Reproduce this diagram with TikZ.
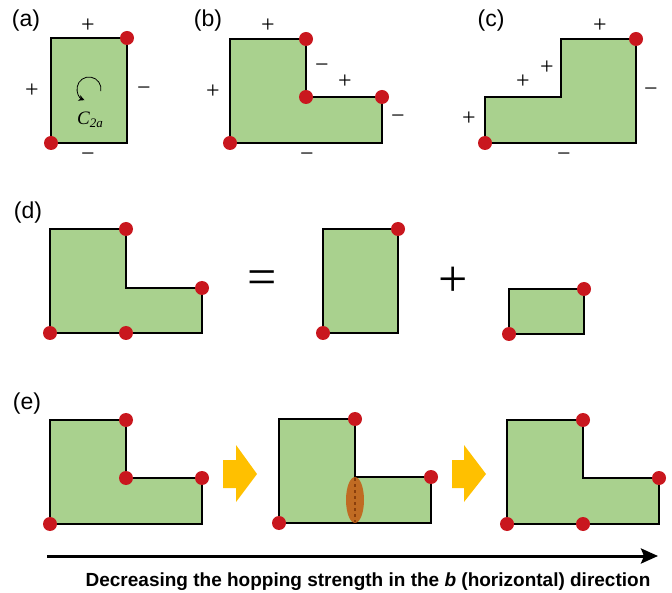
\documentclass[tikz,border=0pt]{standalone}
\usepackage{fontspec}
\setmainfont{Liberation Sans}
\newfontfamily\signfont{Liberation Serif}
\usetikzlibrary{arrows.meta}

\definecolor{plaqgreen}{HTML}{A9D18E}
\definecolor{sitered}{HTML}{C9171E}
\definecolor{arrowyellow}{HTML}{FFC000}
\definecolor{cutbrown}{HTML}{C55A11}

\begin{document}
\begin{tikzpicture}[
    x=1pt, y=-1pt,
    plaq/.style={fill=plaqgreen, draw=black, line width=1.6pt, line join=miter},
    site/.style={circle, fill=sitered, inner sep=0pt, minimum size=14pt},
    sign/.style={font=\signfont\fontsize{24}{24}\selectfont},
    panel/.style={font=\fontsize{23}{23}\selectfont},
    bigsign/.style={font=\signfont\fontsize{52}{52}\selectfont},
    hoparrow/.style={fill=arrowyellow},
    axis/.style={line width=3pt, -{Stealth[length=17pt,width=15pt,inset=3pt]}}
]
\useasboundingbox (0,0) rectangle (672,593);

% Plaquettes
\draw[plaq] (51,38) rectangle (127,143);
\draw[plaq] (230,39) -- (306,39) -- (306,97) -- (382,97) -- (382,143) -- (230,143) -- cycle;
\draw[plaq] (485,97) -- (561,97) -- (561,39) -- (636,39) -- (636,143) -- (485,143) -- cycle;
\draw[plaq] (50,229) -- (126,229) -- (126,288) -- (202,288) -- (202,333) -- (50,333) -- cycle;
\draw[plaq] (323,229) rectangle (398,333);
\draw[plaq] (509,289) rectangle (584,334);
\draw[plaq] (50,420) -- (126,420) -- (126,478) -- (202,478) -- (202,524) -- (50,524) -- cycle;
\draw[plaq] (279,419) -- (355,419) -- (355,477) -- (431,477) -- (431,523) -- (279,523) -- cycle;
\draw[plaq] (507,420) -- (583,420) -- (583,478) -- (659,478) -- (659,524) -- (507,524) -- cycle;

% Cut between the two blocks
\fill[cutbrown, opacity=0.85] (355,500) ellipse [x radius=9, y radius=23];
\draw[cutbrown!70!black, line width=1.3pt, dash pattern=on 3pt off 3pt] (355,478) -- (355,522);

% Sites
\foreach \x/\y/\n in {127/38/a1, 51/143/a2,
    306/39/b1, 306/97/b2, 382/97/b3, 230/143/b4,
    636/39/c1, 485/143/c2,
    126/229/d1, 202/288/d2, 50/333/d3, 126/333/d4,
    398/229/d5, 323/333/d6, 584/289/d7, 509/334/d8,
    126/420/e1, 126/478/e2, 202/478/e3, 50/524/e4,
    355/419/e5, 431/477/e6, 279/523/e7,
    583/420/e8, 659/478/e9, 507/524/e10, 583/524/e11}
  \node[site] (\n) at (\x,\y) {};

% Labels
\node[panel] (la) at (26,21) {(a)};
\node[panel] (lb) at (208,21) {(b)};
\node[panel] (lc) at (491,21) {(c)};
\node[panel] (ld) at (28,213) {(d)};
\node[panel] (le) at (27,404) {(e)};

% Signs
\node[sign] (sa1) at (88,26) {+};
\node[sign] (sa2) at (32,91) {+};
\node[sign] (sa3) at (144,91) {−};
\node[sign] (sa4) at (88,157) {−};
\node[sign] (sb1) at (268,26) {+};
\node[sign] (sb2) at (322,68) {−};
\node[sign] (sb3) at (345,82) {+};
\node[sign] (sb4) at (213,92) {+};
\node[sign] (sb5) at (398,119) {−};
\node[sign] (sb6) at (307,157) {−};
\node[sign] (sc1) at (600,26) {+};
\node[sign] (sc2) at (547,68) {+};
\node[sign] (sc3) at (523,82) {+};
\node[sign] (sc4) at (469,119) {+};
\node[sign] (sc5) at (651,92) {−};
\node[sign] (sc6) at (564,157) {−};
\node[bigsign] (eq) at (262,283) {=};
\node[bigsign] (plus) at (453,282) {+};

% Rotation
\draw[line width=0.8pt, -{Stealth[length=6pt,width=6pt]}] (89,89) ++(10:12) arc[start angle=10, end angle=-248, radius=12];
\node[font=\signfont\itshape\fontsize{19}{19}\selectfont] (rot) at (90,120)
  {C\raisebox{-0.35ex}{\fontsize{13}{13}\selectfont 2a}};

% Steps
\fill[hoparrow] (223,460) -- (236,460) -- (236,445) -- (257,474) -- (236,502) -- (236,488) -- (223,488) -- cycle;
\fill[hoparrow] (452,460) -- (464,460) -- (464,445) -- (486,474) -- (464,502) -- (464,488) -- (452,488) -- cycle;

% Axis
\coordinate (hopstart) at (47,556);
\coordinate (hopend) at (658,556);
\draw[axis] (hopstart) -- (hopend);
\node[font=\fontsize{19}{19}\selectfont\bfseries] (caption) at (368,582)
  {Decreasing the hopping strength in the \textit{b} (horizontal) direction};

\end{tikzpicture}
\end{document}
